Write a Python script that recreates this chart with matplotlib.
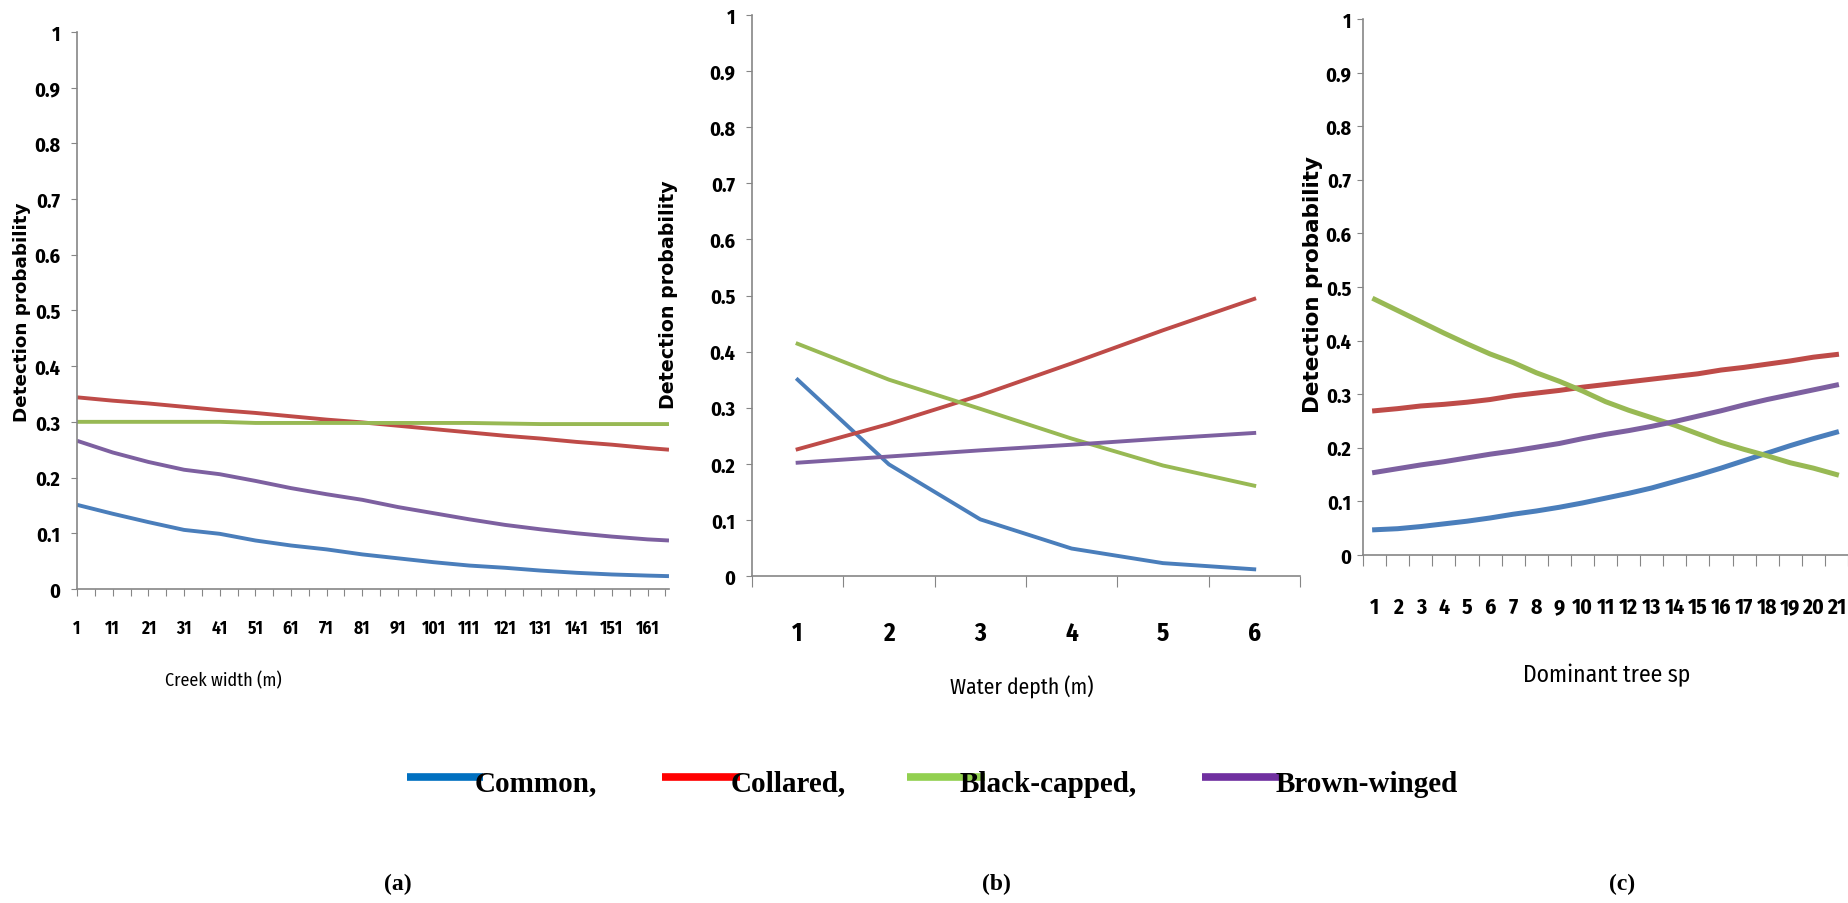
import numpy as np
import matplotlib.pyplot as plt
from matplotlib.lines import Line2D

# Назви видів і кольори
species = ["Common,", "Collared,", "Black-capped,", "Brown-winged"]
line_colors = ["#4A7EBB", "#BE4B48", "#98B954", "#7D60A0"]
legend_colors = ["#0070C0", "#FF0000", "#92D050", "#7030A0"]

# (a) Ширина струмка (значення зчитані через кожні 10 категорій)
creek_x = [1, 11, 21, 31, 41, 51, 61, 71, 81, 91, 101, 111, 121, 131, 141, 151, 161, 167]
creek_common = [0.151, 0.135, 0.120, 0.106, 0.099, 0.087, 0.078, 0.071, 0.062, 0.055,
                0.048, 0.042, 0.038, 0.033, 0.029, 0.026, 0.024, 0.023]
creek_collared = [0.344, 0.338, 0.333, 0.327, 0.321, 0.316, 0.310, 0.304, 0.299, 0.293,
                  0.287, 0.281, 0.275, 0.270, 0.264, 0.259, 0.253, 0.250]
creek_black = [0.300, 0.300, 0.300, 0.300, 0.300, 0.298, 0.298, 0.298, 0.298, 0.298,
               0.298, 0.298, 0.297, 0.296, 0.296, 0.296, 0.296, 0.296]
creek_brown = [0.266, 0.245, 0.228, 0.214, 0.206, 0.194, 0.181, 0.170, 0.160, 0.147,
               0.136, 0.125, 0.115, 0.107, 0.100, 0.094, 0.089, 0.087]

# (b) Глибина води
depth_x = [1, 2, 3, 4, 5, 6]
depth_common = [0.350, 0.199, 0.101, 0.049, 0.023, 0.012]
depth_collared = [0.226, 0.271, 0.322, 0.379, 0.438, 0.494]
depth_black = [0.414, 0.350, 0.298, 0.245, 0.197, 0.161]
depth_brown = [0.202, 0.213, 0.224, 0.234, 0.245, 0.255]

# (c) Домінантний вид дерев
tree_x = list(range(1, 22))
tree_common = [0.047, 0.049, 0.053, 0.058, 0.063, 0.069, 0.076, 0.082, 0.089, 0.097, 0.106,
               0.115, 0.125, 0.137, 0.149, 0.162, 0.176, 0.190, 0.204, 0.217, 0.229]
tree_collared = [0.269, 0.273, 0.278, 0.281, 0.285, 0.290, 0.297, 0.302, 0.307, 0.313, 0.318,
                 0.323, 0.328, 0.333, 0.338, 0.345, 0.350, 0.356, 0.362, 0.369, 0.374]
tree_black = [0.477, 0.456, 0.435, 0.414, 0.394, 0.375, 0.359, 0.340, 0.324, 0.306, 0.286,
              0.270, 0.256, 0.242, 0.226, 0.210, 0.197, 0.185, 0.172, 0.162, 0.150]
tree_brown = [0.154, 0.161, 0.168, 0.174, 0.181, 0.188, 0.194, 0.201, 0.208, 0.217, 0.225,
              0.232, 0.240, 0.249, 0.259, 0.269, 0.280, 0.290, 0.299, 0.308, 0.317]

y_ticks = [0, 0.1, 0.2, 0.3, 0.4, 0.5, 0.6, 0.7, 0.8, 0.9, 1]
y_labels = ["0", "0.1", "0.2", "0.3", "0.4", "0.5", "0.6", "0.7", "0.8", "0.9", "1"]

narrow = ["Fira Sans Condensed", "DejaVu Sans"]
serif = ["Liberation Serif", "DejaVu Serif"]
axis_gray = "#868686"

fig = plt.figure(figsize=(18.48, 9.04), dpi=100)
ax_a = fig.add_axes([0.0417, 0.3474, 0.3203, 0.6162])
ax_b = fig.add_axes([0.4069, 0.3617, 0.2965, 0.6206])
ax_c = fig.add_axes([0.7376, 0.3850, 0.2624, 0.5929])


def style_axis(ax, pad=8):
    for s in ["top", "right"]:
        ax.spines[s].set_visible(False)
    for s in ["left", "bottom"]:
        ax.spines[s].set_color(axis_gray)
        ax.spines[s].set_linewidth(1.2)
    ax.set_ylim(0, 1)
    ax.set_yticks(y_ticks)
    ax.set_yticklabels(y_labels, family=narrow, fontsize=14.5, fontweight="bold")
    ax.tick_params(axis="y", direction="out", length=4, color=axis_gray, pad=pad)


# (a)
for vals, c in zip([creek_common, creek_collared, creek_black, creek_brown], line_colors):
    ax_a.plot(creek_x, vals, color=c, linewidth=2.8, solid_capstyle="butt")
style_axis(ax_a)
ax_a.set_xlim(1, 167)
a_ticks = list(range(1, 167, 5))
ax_a.set_xticks(a_ticks)
ax_a.set_xticklabels([str(t) if (t - 1) % 10 == 0 else "" for t in a_ticks],
                     family=narrow, fontsize=12.5, fontweight="bold")
ax_a.tick_params(axis="x", direction="out", length=5, color=axis_gray, pad=17)

# (b)
for vals, c in zip([depth_common, depth_collared, depth_black, depth_brown], line_colors):
    ax_b.plot(depth_x, vals, color=c, linewidth=2.8)
style_axis(ax_b)
ax_b.set_xlim(0.5, 6.5)
ax_b.set_xticks(np.arange(0.5, 7, 1))
ax_b.set_xticklabels([])
ax_b.set_xticks(depth_x, minor=True)
ax_b.set_xticklabels([str(v) for v in depth_x], minor=True,
                     family=narrow, fontsize=18, fontweight="bold")
ax_b.tick_params(axis="x", which="major", direction="out", length=8, color=axis_gray)
ax_b.tick_params(axis="x", which="minor", length=0, pad=32)

# (c)
for vals, c in zip([tree_common, tree_collared, tree_black, tree_brown], line_colors):
    ax_c.plot(tree_x, vals, color=c, linewidth=3.6)
style_axis(ax_c, pad=4.5)
ax_c.set_xlim(0.5, 21.5)
ax_c.set_xticks(np.arange(0.5, 22, 1))
ax_c.set_xticklabels([])
ax_c.set_xticks(tree_x, minor=True)
ax_c.set_xticklabels([str(v) for v in tree_x], minor=True,
                     family=narrow, fontsize=15.5, fontweight="bold")
ax_c.tick_params(axis="x", which="major", direction="out", length=8, color=axis_gray)
ax_c.tick_params(axis="x", which="minor", length=0, pad=30)

# Підписи осей
fig.text(0.0119, 0.655, "Detection probability", rotation=90, ha="center", va="center",
         fontsize=13.2, fontweight="bold")
fig.text(0.362, 0.674, "Detection probability", rotation=90, ha="center", va="center",
         fontsize=13.7, fontweight="bold")
fig.text(0.7105, 0.685, "Detection probability", rotation=90, ha="center", va="center",
         fontsize=15.5, fontweight="bold")
fig.text(0.1207, 0.2467, "Creek width (m)", ha="center", va="center", family=narrow, fontsize=13)
fig.text(0.553, 0.240, "Water depth (m)", ha="center", va="center", family=narrow, fontsize=15.5)
fig.text(0.8696, 0.2533, "Dominant tree sp", ha="center", va="center", family=narrow, fontsize=17)

# Легенда (лінія перекривається з початком тексту, як в оригіналі)
leg_line_x = [(407, 483), (662, 740), (907, 985), (1202, 1279)]
leg_text_x = [475, 731, 960, 1276]
for (x0, x1), tx, c, name in zip(leg_line_x, leg_text_x, legend_colors, species):
    fig.add_artist(Line2D([x0 / 1848, x1 / 1848], [0.1394, 0.1394], color=c,
                          linewidth=5.5, solid_capstyle="butt"))
    fig.text(tx / 1848, 0.1327, name, ha="left", va="center", family=serif,
             fontsize=21, fontweight="bold")

# Позначки панелей
for x, lab in zip([0.2154, 0.539, 0.8777], ["(a)", "(b)", "(c)"]):
    fig.text(x, 0.022, lab, ha="center", va="center", family=serif,
             fontsize=17, fontweight="bold")

fig.savefig("out.png", dpi=100)
